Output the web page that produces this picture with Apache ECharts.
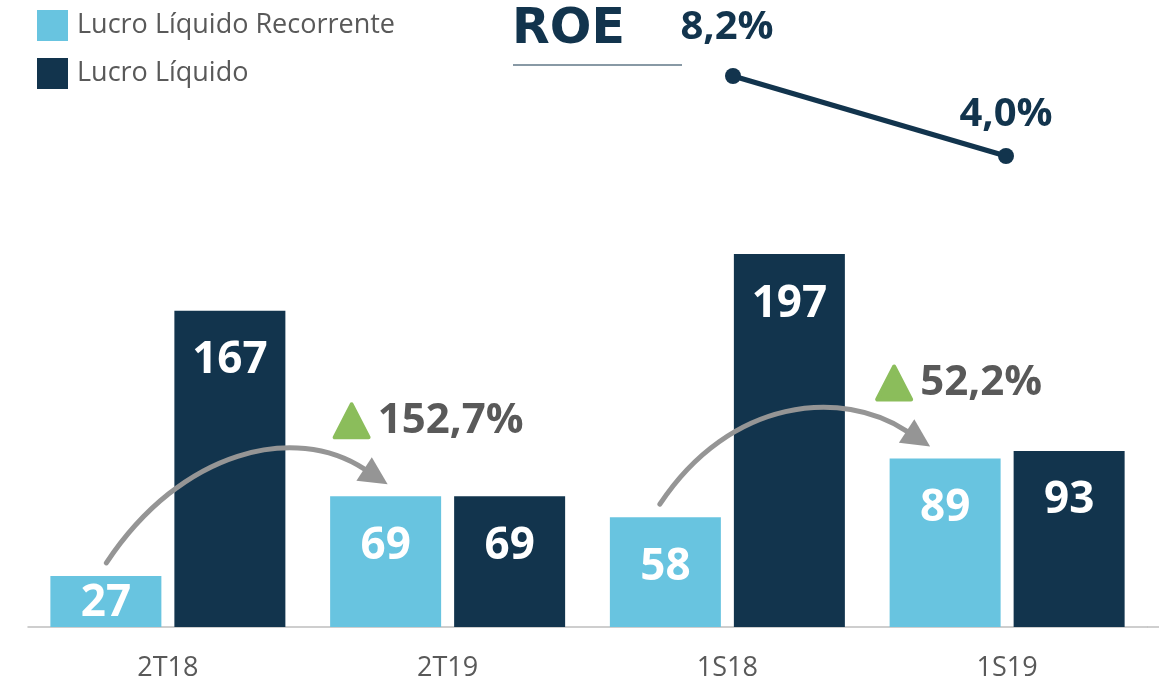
<!DOCTYPE html>
<html>
<head>
<meta charset="utf-8">
<script src="https://cdn.jsdelivr.net/npm/echarts@6/dist/echarts.min.js"></script>
<style>
html,body{margin:0;padding:0;background:#fff;}
#chart{width:1159px;height:686px;}
</style>
</head>
<body>
<div id="chart"></div>
<script>
// ---- data ----
const categories = ['2T18', '2T19', '1S18', '1S19'];
const recurringProfit = [27, 69, 58, 89];       // Lucro Líquido Recorrente
const netProfit = [167, 69, 197, 93];           // Lucro Líquido
const roeValues = [null, null, 8.2, 4.0];       // ROE (%)
const growthFrom = [0, 2];
const growthTo = [1, 3];
const growthValues = [152.7, 52.2];             // % growth of recurring profit

// ---- styles ----
const LIGHT = '#68C4E0';
const DARK = '#12344D';
const GREY_TXT = '#595959';
const ARROW = '#959595';
const GREEN = '#8BBD5B';
const FONT = '"Open Sans", "Noto Sans", sans-serif';
const BAR_W = 111, BAR_GAP = 13;

const fmtPct = v => v.toFixed(1).replace('.', ',') + '%';

const chart = echarts.init(document.getElementById('chart'), null, {renderer: 'canvas'});

function barData(arr) {
  return arr.map(v => ({value: v, label: {distance: v < 40 ? 6 : 28}}));
}

const barLabel = {
  show: true, position: 'insideTop', color: '#fff',
  fontSize: 44, fontWeight: 'bold', fontFamily: FONT
};

chart.setOption({
  animation: false,
  backgroundColor: '#fff',
  legend: {
    orient: 'vertical', left: 32, top: 5, itemWidth: 31, itemHeight: 31, itemGap: 17,
    icon: 'rect',
    textStyle: {fontSize: 27, color: GREY_TXT, fontFamily: FONT, padding: [0, 0, 0, 4]},
    data: ['Lucro Líquido Recorrente', 'Lucro Líquido']
  },
  grid: [
    {left: 28, right: 12, top: 59, bottom: 59},
    {left: 50.5, right: 16.5, top: 76, bottom: 530}
  ],
  xAxis: [
    {
      type: 'category', data: categories, gridIndex: 0,
      axisLine: {lineStyle: {color: '#BFBFBF', width: 1.5}},
      axisTick: {show: false},
      axisLabel: {fontSize: 27, color: GREY_TXT, fontFamily: FONT, margin: 28}
    },
    {type: 'category', data: categories, gridIndex: 1, show: false}
  ],
  yAxis: [
    {type: 'value', min: 0, max: 300, gridIndex: 0, show: false, splitLine: {show: false}},
    {type: 'value', min: 4.0, max: 8.2, gridIndex: 1, show: false, splitLine: {show: false}}
  ],
  series: [
    {
      name: 'Lucro Líquido Recorrente', type: 'bar', data: barData(recurringProfit),
      barWidth: BAR_W, barGap: (BAR_GAP / BAR_W * 100) + '%',
      itemStyle: {color: LIGHT}, label: barLabel
    },
    {
      name: 'Lucro Líquido', type: 'bar', data: barData(netProfit),
      barWidth: BAR_W,
      itemStyle: {color: DARK}, label: barLabel
    },
    {
      name: 'ROE', type: 'line', xAxisIndex: 1, yAxisIndex: 1,
      data: roeValues.map((v, i) => (i === 2 ? {value: v, label: {offset: [-6, 0], distance: 20}} : v)),
      symbol: 'circle', symbolSize: 16,
      lineStyle: {color: DARK, width: 5}, itemStyle: {color: DARK},
      label: {
        show: true, position: 'top', distance: 13,
        formatter: p => fmtPct(p.value),
        fontSize: 40, fontWeight: 'bold', color: DARK, fontFamily: FONT
      }
    }
  ]
});

// ---- annotations computed from the axes ----
const graphics = [];
// ROE title + underline
graphics.push({
  type: 'text', z: 100, style: {text: 'ROE', x: 512, y: 30, fill: DARK,
    font: 'bold 49px "DejaVu Sans", ' + FONT, align: 'left', verticalAlign: 'middle'}
});
graphics.push({
  type: 'line', z: 100, shape: {x1: 513, y1: 65, x2: 682, y2: 65}, style: {stroke: DARK, lineWidth: 1.2}
});
// extend base axis line to the right edge
const axisEnd = chart.convertToPixel({gridIndex: 0}, [3.5, 0]);
graphics.push({
  type: 'line', shape: {x1: 1147, y1: axisEnd[1], x2: 1159, y2: axisEnd[1]},
  style: {stroke: '#BFBFBF', lineWidth: 1.5}
});

const startDx = [0.5, -5.5], tipDx = [2, -15];
const half = (BAR_W + BAR_GAP) / 2;
growthValues.forEach((g, k) => {
  const i = growthFrom[k], j = growthTo[k];
  const p0 = chart.convertToPixel({xAxisIndex: 0, yAxisIndex: 0}, [i, recurringProfit[i]]);
  const p1 = chart.convertToPixel({xAxisIndex: 0, yAxisIndex: 0}, [j, recurringProfit[j]]);
  const S = [p0[0] - half + startDx[k], p0[1] - 13];
  const T = [p1[0] - half + tipDx[k], p1[1] - 12];
  const d0 = [0.55, -0.83], d1 = [0.84, 0.55], n = [-0.55, 0.84];
  const E = [T[0] - 28 * d1[0], T[1] - 28 * d1[1]];
  const dist = Math.hypot(E[0] - S[0], E[1] - S[1]);
  const a = 0.5 * dist, b = 0.3 * dist;
  graphics.push({
    type: 'bezierCurve', z: 100,
    shape: {x1: S[0], y1: S[1], x2: E[0], y2: E[1],
      cpx1: S[0] + a * d0[0], cpy1: S[1] + a * d0[1],
      cpx2: E[0] - b * d1[0], cpy2: E[1] - b * d1[1]},
    style: {stroke: ARROW, lineWidth: 5, fill: null, lineCap: 'round'}
  });
  graphics.push({
    type: 'polygon', z: 100,
    shape: {points: [T, [E[0] + 14 * n[0], E[1] + 14 * n[1]], [E[0] - 14 * n[0], E[1] - 14 * n[1]]]},
    style: {fill: ARROW}
  });
  // green triangle + growth text
  const L = T[0] - 55, B = T[1] - 45;
  graphics.push({
    type: 'polygon', z: 100,
    shape: {points: [[L + 2, B - 2], [L + 36, B - 2], [L + 19, B - 35]]},
    style: {fill: GREEN, stroke: GREEN, lineWidth: 4, lineJoin: 'round'}
  });
  graphics.push({
    type: 'text', z: 100,
    style: {text: fmtPct(g), x: L + 45, y: B - 18, fill: GREY_TXT, font: 'bold 42px ' + FONT,
      align: 'left', verticalAlign: 'middle'}
  });
});
chart.setOption({graphic: graphics});
</script>
</body>
</html>
